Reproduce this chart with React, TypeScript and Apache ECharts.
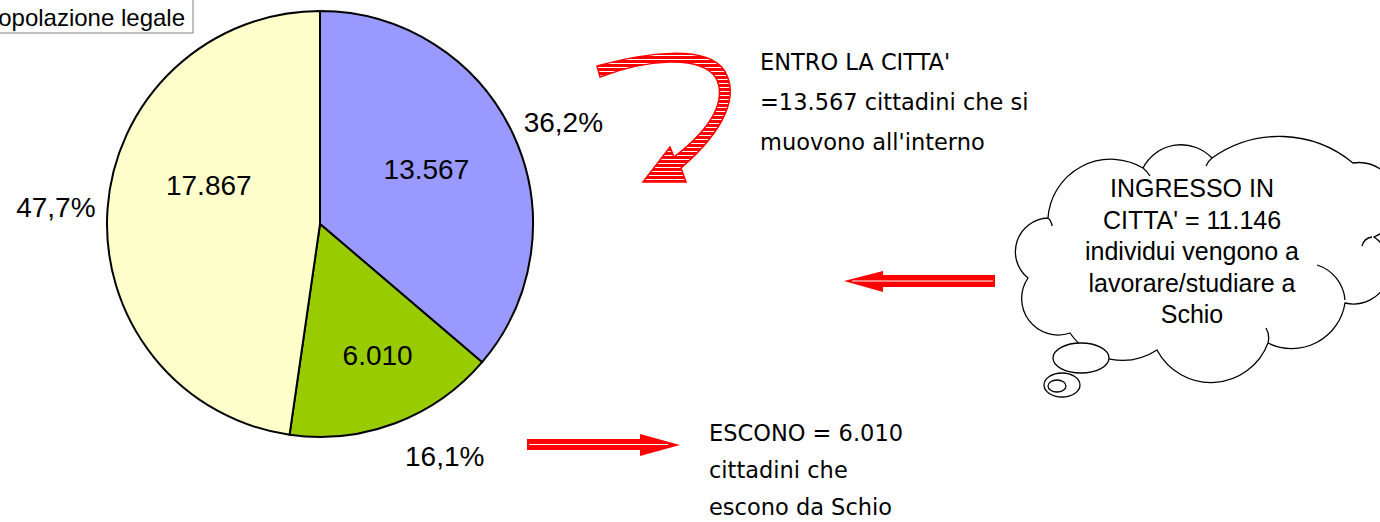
import React, { useEffect, useRef } from "react";
import * as echarts from "echarts";

const categories = ["Si muovono all'interno", "Escono", "Non si muovono"];
const values = [13567, 6010, 17867];
const sliceColors = ["#9999FF", "#99CC00", "#FFFFCC"];
const legendTitle = "Popolazione legale";
const entroLines = ["ENTRO LA CITTA'", "=13.567 cittadini che si", "muovono all'interno"];
const esconoLines = ["ESCONO = 6.010", "cittadini che", "escono da Schio"];
const cloudLines = ["INGRESSO IN", "CITTA' = 11.146", "individui vengono a", "lavorare/studiare a", "Schio"];

const ARIAL = "'Liberation Sans', Arial, Helvetica, sans-serif";
const COMIC = "'Comic Sans MS', 'DejaVu Sans', sans-serif";

const total = values.reduce((a, b) => a + b, 0);
const fmtThousands = (v: number) => String(v).replace(/\B(?=(\d{3})+(?!\d))/g, ".");
const fmtPct = (v: number) => ((v / total) * 100).toFixed(1).replace(".", ",") + "%";

// label fine-tuning (pixels)
const innerOffsets = [[7, -9], [19, 29], [-2, -31]];
const outerOffsets = [[3, -9], [7, 26], [-4, -1]];

// cloud outline: cusp points and the bulge of each bump
const cloudCusps = [
  [1048, 218], [1143, 168], [1212, 158], [1353, 163], [1374, 237],
  [1345, 303], [1268, 343], [1157, 350], [1070, 333], [1028, 278],
];
const cloudBulges = [30, 18, 24, 34, 30, 22, 36, 18, 25, 22];
const cloudHooks = [
  "M 1317 265 A 40 40 0 0 1 1345 300",
  "M 1266 328 A 20 20 0 0 1 1268 343",
  "M 1372 237 A 12 12 0 0 0 1362 246",
  "M 1143 168 A 30 30 0 0 1 1150 176",
  "M 1048 218 A 12 12 0 0 1 1052 226",
  "M 1212 158 A 20 20 0 0 0 1206 166",
];

function cloudPath(pts: number[][], bulges: number[]) {
  let d = `M ${pts[0][0]} ${pts[0][1]}`;
  for (let i = 0; i < pts.length; i++) {
    const a = pts[i];
    const b = pts[(i + 1) % pts.length];
    const c = Math.hypot(b[0] - a[0], b[1] - a[1]);
    const h = bulges[i];
    const r = (c * c / 4 + h * h) / (2 * h);
    const large = h > c / 2 ? 1 : 0;
    d += ` A ${r.toFixed(2)} ${r.toFixed(2)} 0 ${large} 1 ${b[0]} ${b[1]}`;
  }
  return d + " Z " + cloudHooks.join(" ");
}

const curvedArrowD =
  "M 597 66 C 645 53, 705 44, 724 70 C 740 95, 725 130, 681 168 L 686 182 L 643 182 L 670 147 L 674 157 C 712 128, 727 100, 716 78 C 700 54, 645 60, 600 77 Z";

let registered = false;
function registerShapes() {
  if (registered) return;
  registered = true;
  echarts.graphic.registerShape("cloudShape", echarts.graphic.extendPath(cloudPath(cloudCusps, cloudBulges), {}) as any);
  echarts.graphic.registerShape("curvedArrow", echarts.graphic.extendPath(curvedArrowD, {}) as any);
}

function stripeGradient(y0: number, y1: number, period: number) {
  const stops: any[] = [];
  const len = y1 - y0;
  for (let y = 0; y < len; y += period) {
    const a = y / len;
    const b = Math.min((y + period - 1.2) / len, 1);
    const c = Math.min((y + period) / len, 1);
    stops.push({ offset: a, color: "#FF0000" });
    stops.push({ offset: b, color: "#FF0000" });
    stops.push({ offset: b, color: "#FFFFFF" });
    stops.push({ offset: c, color: "#FFFFFF" });
  }
  return { type: "linear", x: 0, y: y0, x2: 0, y2: y1, global: true, colorStops: stops };
}

export default function App() {
  const ref = useRef<HTMLDivElement>(null);
  useEffect(() => {
    if (!ref.current) return;
    registerShapes();
    const chart = echarts.init(ref.current, null, { renderer: "svg" });

    const innerData = categories.map((name, i) => ({
      name,
      value: values[i],
      itemStyle: { color: sliceColors[i] },
      label: { offset: innerOffsets[i] },
    }));
    const outerData = categories.map((name, i) => ({
      name,
      value: values[i],
      label: { offset: outerOffsets[i] },
    }));

    const textLines = (lines: string[], x: number, ys: number[], font: string, size: number) =>
      lines.map((t, i) => ({
        type: "text",
        x,
        y: ys[i],
        style: { text: t, fill: "#000", font: `${size}px ${font}`, textVerticalAlign: "middle", textAlign: "left" },
      }));

    const option: any = {
      animation: false,
      backgroundColor: "#FFFFFF",
      series: [
        {
          type: "pie",
          center: [320, 224],
          radius: 213,
          startAngle: 90,
          clockwise: true,
          avoidLabelOverlap: false,
          silent: true,
          data: innerData,
          itemStyle: { borderColor: "#000000", borderWidth: 2 },
          label: {
            show: true,
            position: "inside",
            fontSize: 28,
            fontFamily: ARIAL,
            color: "#000000",
            formatter: (p: any) => fmtThousands(p.value),
          },
          labelLine: { show: false },
        },
        {
          type: "pie",
          center: [320, 224],
          radius: 213,
          startAngle: 90,
          clockwise: true,
          avoidLabelOverlap: false,
          silent: true,
          data: outerData,
          itemStyle: { color: "rgba(0,0,0,0)", borderWidth: 0 },
          label: {
            show: true,
            position: "outside",
            fontSize: 28,
            fontFamily: ARIAL,
            color: "#000000",
            distanceToLabelLine: 0,
            formatter: (p: any) => fmtPct(p.value),
          },
          labelLine: { show: false, length: 8, length2: 0 },
        },
      ],
      graphic: [
        // legend / title box
        {
          type: "rect",
          shape: { x: -10, y: -1, width: 203, height: 34 },
          style: { fill: "#FFFFFF", stroke: "#808080", lineWidth: 1 },
        },
        {
          type: "text",
          x: 185,
          y: 17,
          style: { text: legendTitle, fill: "#000", font: `24px ${ARIAL}`, textAlign: "right", textVerticalAlign: "middle" },
        },
        // curved arrow
        {
          type: "curvedArrow",
          x: 0,
          y: 0,
          style: { fill: stripeGradient(44, 184, 4), stroke: "#FF0000", lineWidth: 1.5 },
        },
        // bottom arrow (right-pointing)
        {
          type: "polygon",
          shape: { points: [[527, 439], [640, 439], [640, 434], [680, 445], [640, 456], [640, 450], [527, 450]] },
          style: { fill: "#FF0000" },
        },
        { type: "line", shape: { x1: 529, y1: 444.5, x2: 668, y2: 444.5 }, style: { stroke: "#FFFFFF", lineWidth: 1.2 } },
        // left-pointing arrow
        {
          type: "polygon",
          shape: { points: [[995, 275], [883, 275], [883, 271], [844, 281], [883, 292], [883, 287], [995, 287]] },
          style: { fill: "#FF0000" },
        },
        { type: "line", shape: { x1: 852, y1: 281, x2: 993, y2: 281 }, style: { stroke: "#FFFFFF", lineWidth: 1.2 } },
        // thought cloud
        {
          type: "cloudShape",
          x: 0,
          y: 0,
          style: { fill: "#FFFFFF", stroke: "#000000", lineWidth: 1.3 },
        },
        { type: "ellipse", shape: { cx: 1081, cy: 358, rx: 28, ry: 15 }, style: { fill: "#FFFFFF", stroke: "#000", lineWidth: 1.3 } },
        { type: "ellipse", shape: { cx: 1062, cy: 385, rx: 18, ry: 12 }, style: { fill: "#FFFFFF", stroke: "#000", lineWidth: 1.3 } },
        { type: "ellipse", shape: { cx: 1057, cy: 386, rx: 9, ry: 6 }, style: { fill: "#FFFFFF", stroke: "#000", lineWidth: 1.3 } },
        ...cloudLines.map((t, i) => ({
          type: "text",
          x: 1192,
          y: 188 + i * 31.5,
          style: { text: t, fill: "#000", font: `25px ${ARIAL}`, textAlign: "center", textVerticalAlign: "middle" },
        })),
        ...textLines(entroLines, 760, [62, 102, 142], COMIC, 22.5),
        ...textLines(esconoLines, 709, [433, 470, 507], COMIC, 22.5),
      ],
    };
    chart.setOption(option);
    return () => chart.dispose();
  }, []);
  return (
    <div
      ref={ref}
      style={{ position: "fixed", left: 0, top: 0, width: 1380, height: 522, background: "#fff" }}
    />
  );
}
